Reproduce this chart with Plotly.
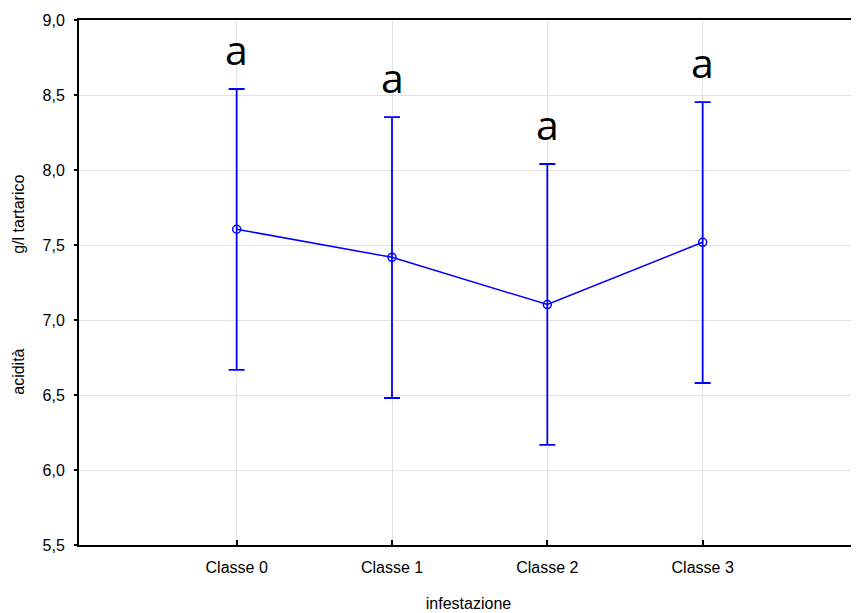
import plotly.graph_objects as go

categories = ["Classe 0", "Classe 1", "Classe 2", "Classe 3"]
means = [7.605, 7.418, 7.103, 7.518]
upper = [8.54, 8.353, 8.04, 8.453]
lower = [6.667, 6.48, 6.167, 6.58]
letters = ["a", "a", "a", "a"]
y_ticks = [5.5, 6.0, 6.5, 7.0, 7.5, 8.0, 8.5, 9.0]

x_idx = list(range(len(categories)))
err_plus = [u - m for u, m in zip(upper, means)]
err_minus = [m - l for m, l in zip(means, lower)]

BLUE = "#0000ff"
FONT = "Liberation Sans, Arial, sans-serif"

fig = go.Figure()
fig.add_trace(go.Scatter(
    x=x_idx, y=means, mode="lines+markers",
    line=dict(color=BLUE, width=1.5),
    marker=dict(symbol="circle-open", size=8, color=BLUE, line=dict(width=1.5, color=BLUE)),
    error_y=dict(type="data", symmetric=False, array=err_plus, arrayminus=err_minus,
                 color=BLUE, thickness=1.8, width=8),
    showlegend=False, cliponaxis=False,
))

for i, (u, t) in enumerate(zip(upper, letters)):
    fig.add_annotation(x=i, y=u, text=t, showarrow=False, xanchor="center", yanchor="bottom",
                       yshift=10, font=dict(family="Open Sans, sans-serif", size=41, color="black"))

# y-axis title parts
fig.add_annotation(xref="paper", yref="paper", x=-0.077, y=0.629, text="g/l tartarico", showarrow=False,
                   textangle=-90, xanchor="center", yanchor="middle",
                   font=dict(family=FONT, size=16, color="black"))
fig.add_annotation(xref="paper", yref="paper", x=-0.077, y=0.33, text="acidità", showarrow=False,
                   textangle=-90, xanchor="center", yanchor="middle",
                   font=dict(family=FONT, size=16, color="black"))

# page body has an 8px default margin, so the figure is sized to fill the rest
fig.update_layout(
    width=851, height=605,
    margin=dict(l=71, r=1, t=12, b=68, autoexpand=False),
    paper_bgcolor="white", plot_bgcolor="white",
    separators=",.",
    font=dict(family=FONT, size=16, color="black"),
    xaxis=dict(
        range=[-1.015, 4.0], tickmode="array", tickvals=x_idx, ticktext=categories,
        showgrid=True, gridcolor="#e3e3e3", gridwidth=1,
        showline=True, linecolor="black", linewidth=2, mirror=True,
        ticks="inside", ticklen=5, tickcolor="black", tickwidth=2,
        zeroline=False, automargin=False, ticklabelstandoff=7,
        title=dict(text="infestazione", font=dict(size=16), standoff=23),
        tickfont=dict(size=16),
    ),
    yaxis=dict(
        range=[5.5, 9.0], tickmode="array", tickvals=y_ticks, tickformat=".1f",
        showgrid=True, gridcolor="#e3e3e3", gridwidth=1,
        showline=True, linecolor="black", linewidth=2,
        ticks="outside", ticklen=3, tickcolor="black", tickwidth=2,
        zeroline=False, tickfont=dict(size=16), automargin=False, ticklabelstandoff=6,
    ),
    yaxis2=dict(
        range=[5.5, 9.0], tickmode="array", tickvals=y_ticks, overlaying="y", side="right",
        showticklabels=False, showgrid=False, showline=False, zeroline=False,
        ticks="inside", ticklen=4, tickcolor="black", tickwidth=2, automargin=False,
    ),
)
fig.add_trace(go.Scatter(x=[0], y=[6.0], yaxis="y2", mode="markers", marker=dict(opacity=0),
                         showlegend=False, hoverinfo="skip"))

fig.write_html("out.html")
